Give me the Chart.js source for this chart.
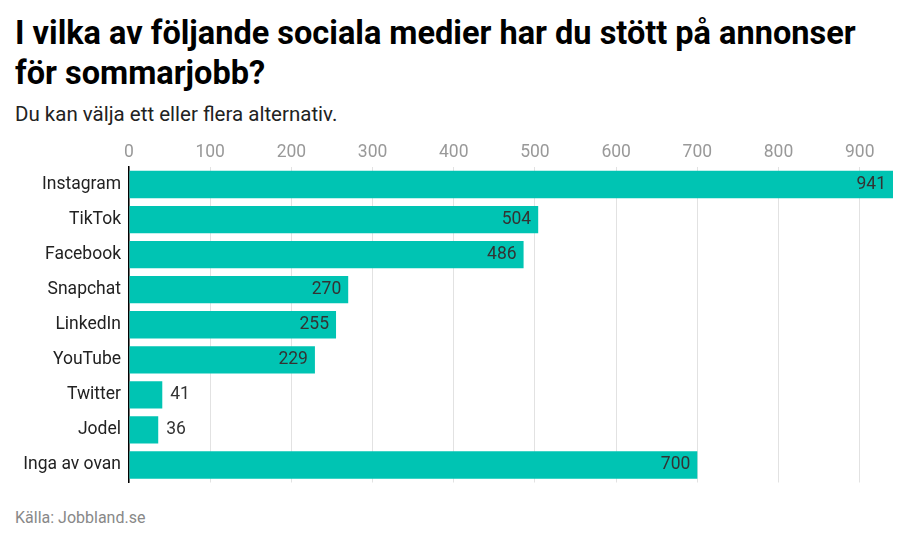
<!DOCTYPE html>
<html>
<head>
<meta charset="utf-8">
<script src="https://cdn.jsdelivr.net/npm/chart.js@4.4.1/dist/chart.umd.min.js"></script>
<style>
  html, body { margin: 0; padding: 0; background: #fff; }
  body { width: 910px; height: 543px; position: relative; overflow: hidden; font-family: Roboto, sans-serif; }
  .title { position: absolute; left: 15px; top: 13px; width: 870px; font-size: 32.5px; font-weight: 700; line-height: 40px; color: #000; }
  .subtitle { position: absolute; left: 15px; top: 102px; font-size: 20.5px; color: #222; }
  .source { position: absolute; left: 15px; top: 508px; font-size: 16px; color: #888; }
  #chart { position: absolute; left: 0; top: 140px; }
</style>
</head>
<body>
<div class="title">I vilka av följande sociala medier har du stött på annonser för sommarjobb?</div>
<div class="subtitle">Du kan välja ett eller flera alternativ.</div>
<canvas id="chart" width="910" height="361"></canvas>
<div class="source">Källa: Jobbland.se</div>
<script>
// ===== Data =====
const categories = ['Instagram', 'TikTok', 'Facebook', 'Snapchat', 'LinkedIn', 'YouTube', 'Twitter', 'Jodel', 'Inga av ovan'];
const values = [941, 504, 486, 270, 255, 229, 41, 36, 700];

const barColor = '#00c4b3';
const labelFont = { family: 'Roboto', size: 17.5 };

// värdeetiketter: inuti stapeln om den är bred nog, annars utanför
const valueLabels = {
  id: 'valueLabels',
  afterDatasetsDraw(chart) {
    const { ctx } = chart;
    const meta = chart.getDatasetMeta(0);
    ctx.save();
    ctx.font = '17.5px Roboto, sans-serif';
    ctx.fillStyle = '#333';
    ctx.textBaseline = 'middle';
    meta.data.forEach((bar, i) => {
      const txt = String(values[i]);
      const w = bar.x - bar.base;
      if (w > 60) {
        ctx.textAlign = 'right';
        ctx.fillText(txt, bar.x - 7, bar.y);
      } else {
        ctx.textAlign = 'left';
        ctx.fillText(txt, bar.x + 8, bar.y);
      }
    });
    ctx.restore();
  }
};

new Chart(document.getElementById('chart'), {
  type: 'bar',
  data: {
    labels: categories,
    datasets: [{
      data: values,
      backgroundColor: barColor,
      borderWidth: 0,
      categoryPercentage: 1,
      barPercentage: 0.78
    }]
  },
  options: {
    indexAxis: 'y',
    responsive: false,
    animation: false,
    layout: { padding: { left: 0, right: 17, top: 0, bottom: 0 } },
    plugins: { legend: { display: false }, tooltip: { enabled: false } },
    scales: {
      x: {
        position: 'top',
        min: 0, max: 941,
        grid: { color: '#e2e2e2', lineWidth: 1, drawTicks: false },
        border: { display: false },
        ticks: { stepSize: 100, includeBounds: false, color: '#999', font: labelFont, padding: 4 },
        afterFit: (s) => { s.height = 27; }
      },
      y: {
        grid: { display: false, drawTicks: false },
        border: { display: true, color: '#000', width: 1.5 },
        ticks: { color: '#222', font: labelFont, padding: 8 },
        afterFit: (s) => { s.width = 129; }
      }
    }
  },
  plugins: [valueLabels]
});
</script>
</body>
</html>
